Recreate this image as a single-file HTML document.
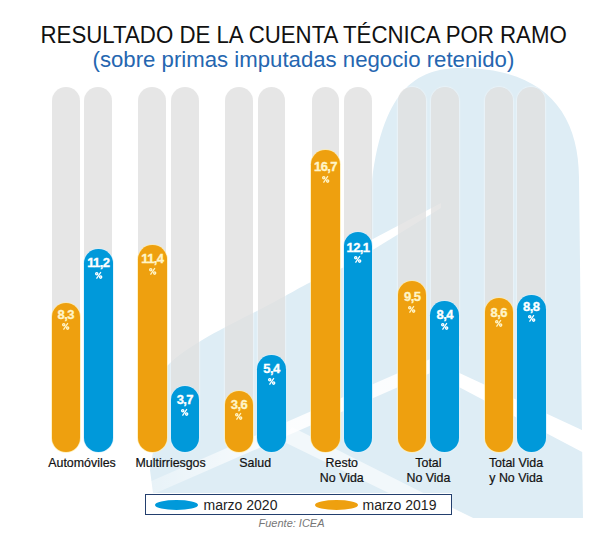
<!DOCTYPE html>
<html><head><meta charset="utf-8"><style>
*{margin:0;padding:0;box-sizing:border-box}
html,body{width:615px;height:545px;overflow:hidden;background:#fff}
body{position:relative;font-family:"Liberation Sans",sans-serif}
.t1{position:absolute;left:40.5px;top:23.5px;font-size:22.25px;line-height:24px;transform-origin:0 19.7px;transform:scaleY(1.04);color:#111;white-space:nowrap}
.t2{position:absolute;left:92.5px;top:47.9px;font-size:22.2px;line-height:24px;color:#2566b0;white-space:nowrap}
.g{position:absolute;width:27.9px;border-radius:13.95px;background:rgba(224,224,224,0.8);box-shadow:0 0 1.5px 0.6px rgba(255,255,255,0.55)}
.o,.b{position:absolute;width:28.5px;border-radius:14.25px;text-align:center;font-weight:bold}
.o{background:#eea00f;color:#fff5c8;box-shadow:0 0 0 0.7px rgba(255,236,170,0.9)}
.b{background:#0099da;color:#fff;box-shadow:0 0 0 0.7px rgba(215,238,252,0.9)}
.v{position:absolute;left:-10px;right:-10px;top:8px;font-size:13px;line-height:16px;letter-spacing:-0.6px;-webkit-text-stroke:0.35px currentColor}
.p{position:absolute;left:50%;margin-left:-3.7px;overflow:visible}
.lab{position:absolute;top:456.3px;width:120px;text-align:center;font-size:12.4px;line-height:15px;color:#111;-webkit-text-stroke:0.2px #111}
.leg{position:absolute;left:145px;top:494px;width:307px;height:21px;border:1.6px solid #233f6e;background:#fff}
.ell{position:absolute;top:500px;width:43.5px;height:10px;border-radius:50%}
.lt{position:absolute;top:496.5px;font-size:14px;line-height:16px;color:#222;white-space:nowrap}
.src{position:absolute;left:258.5px;top:517px;font-size:11px;line-height:13px;font-style:italic;color:#777;white-space:nowrap}
</style></head><body>
<svg width="615" height="545" style="position:absolute;left:0;top:0">
<path d="M371 255 L371 190 C381 90 416 68 461 68 C542 68 579 110 579 178 L583 518 L473 518 L452 508 L452 493 L153 493 L150 470 L167 366 C185 348 215 332 251 314 S 300 287 311 282 Z" fill="#deedf5"/>
<path d="M440 364 L584 431 L584 453 L440 377 Z" fill="#fff"/>
<path d="M371 240 L441 203 L441 208 L371 251 Z" fill="#fff"/>
<defs><linearGradient id="gc" gradientUnits="userSpaceOnUse" x1="150" y1="0" x2="290" y2="0"><stop offset="0" stop-color="#fff" stop-opacity="0.3"/><stop offset="1" stop-color="#fff" stop-opacity="0.9"/></linearGradient></defs><path d="M140 486 L460 346 L460 360 L140 500 Z" fill="url(#gc)"/>
<path d="M292 427 L473 518 L440 518 L280 440 Z" fill="#fff" fill-opacity="0.6"/>
</svg>
<div class="t1">RESULTADO DE LA CUENTA TÉCNICA POR RAMO</div>
<div class="t2">(sobre primas imputadas negocio retenido)</div>
<div class="g" style="left:51.80px;top:87.4px;height:364.6px"></div>
<div class="g" style="left:84.30px;top:87.4px;height:364.6px"></div>
<div class="o" style="left:51.50px;top:303.0px;height:149.0px"><span class="v" style="top:4.3px">8,3</span><svg class="p" style="top:19.8px" width="7.4" height="6.8" viewBox="0 0 7.4 6.8"><ellipse cx="1.75" cy="1.7" rx="1.1" ry="1.15" fill="none" stroke="currentColor" stroke-width="1.35"/><ellipse cx="5.65" cy="5.1" rx="1.1" ry="1.15" fill="none" stroke="currentColor" stroke-width="1.35"/><path d="M5.9 0.1 L1.5 6.7" stroke="currentColor" stroke-width="1.25"/></svg></div>
<div class="b" style="left:84.00px;top:249.1px;height:202.9px"><span class="v" style="top:6.2px">11,2</span><svg class="p" style="top:23.1px" width="7.4" height="6.8" viewBox="0 0 7.4 6.8"><ellipse cx="1.75" cy="1.7" rx="1.1" ry="1.15" fill="none" stroke="currentColor" stroke-width="1.35"/><ellipse cx="5.65" cy="5.1" rx="1.1" ry="1.15" fill="none" stroke="currentColor" stroke-width="1.35"/><path d="M5.9 0.1 L1.5 6.7" stroke="currentColor" stroke-width="1.25"/></svg></div>
<div class="lab" style="left:22.00px">Automóviles</div>
<div class="g" style="left:138.40px;top:87.4px;height:364.6px"></div>
<div class="g" style="left:170.90px;top:87.4px;height:364.6px"></div>
<div class="o" style="left:138.10px;top:244.8px;height:207.2px"><span class="v" style="top:6.5px">11,4</span><svg class="p" style="top:23.1px" width="7.4" height="6.8" viewBox="0 0 7.4 6.8"><ellipse cx="1.75" cy="1.7" rx="1.1" ry="1.15" fill="none" stroke="currentColor" stroke-width="1.35"/><ellipse cx="5.65" cy="5.1" rx="1.1" ry="1.15" fill="none" stroke="currentColor" stroke-width="1.35"/><path d="M5.9 0.1 L1.5 6.7" stroke="currentColor" stroke-width="1.25"/></svg></div>
<div class="b" style="left:170.60px;top:386.4px;height:65.6px"><span class="v" style="top:5.8px">3,7</span><svg class="p" style="top:22.7px" width="7.4" height="6.8" viewBox="0 0 7.4 6.8"><ellipse cx="1.75" cy="1.7" rx="1.1" ry="1.15" fill="none" stroke="currentColor" stroke-width="1.35"/><ellipse cx="5.65" cy="5.1" rx="1.1" ry="1.15" fill="none" stroke="currentColor" stroke-width="1.35"/><path d="M5.9 0.1 L1.5 6.7" stroke="currentColor" stroke-width="1.25"/></svg></div>
<div class="lab" style="left:110.60px">Multirriesgos</div>
<div class="g" style="left:225.00px;top:87.4px;height:364.6px"></div>
<div class="g" style="left:257.50px;top:87.4px;height:364.6px"></div>
<div class="o" style="left:224.70px;top:390.8px;height:61.2px"><span class="v" style="top:5.8px">3,6</span><svg class="p" style="top:22.3px" width="7.4" height="6.8" viewBox="0 0 7.4 6.8"><ellipse cx="1.75" cy="1.7" rx="1.1" ry="1.15" fill="none" stroke="currentColor" stroke-width="1.35"/><ellipse cx="5.65" cy="5.1" rx="1.1" ry="1.15" fill="none" stroke="currentColor" stroke-width="1.35"/><path d="M5.9 0.1 L1.5 6.7" stroke="currentColor" stroke-width="1.25"/></svg></div>
<div class="b" style="left:257.20px;top:354.8px;height:97.2px"><span class="v" style="top:6.5px">5,4</span><svg class="p" style="top:23.4px" width="7.4" height="6.8" viewBox="0 0 7.4 6.8"><ellipse cx="1.75" cy="1.7" rx="1.1" ry="1.15" fill="none" stroke="currentColor" stroke-width="1.35"/><ellipse cx="5.65" cy="5.1" rx="1.1" ry="1.15" fill="none" stroke="currentColor" stroke-width="1.35"/><path d="M5.9 0.1 L1.5 6.7" stroke="currentColor" stroke-width="1.25"/></svg></div>
<div class="lab" style="left:195.20px">Salud</div>
<div class="g" style="left:311.60px;top:87.4px;height:364.6px"></div>
<div class="g" style="left:344.10px;top:87.4px;height:364.6px"></div>
<div class="o" style="left:311.30px;top:150.0px;height:302.0px"><span class="v" style="top:9.2px">16,7</span><svg class="p" style="top:25.6px" width="7.4" height="6.8" viewBox="0 0 7.4 6.8"><ellipse cx="1.75" cy="1.7" rx="1.1" ry="1.15" fill="none" stroke="currentColor" stroke-width="1.35"/><ellipse cx="5.65" cy="5.1" rx="1.1" ry="1.15" fill="none" stroke="currentColor" stroke-width="1.35"/><path d="M5.9 0.1 L1.5 6.7" stroke="currentColor" stroke-width="1.25"/></svg></div>
<div class="b" style="left:343.80px;top:231.9px;height:220.1px"><span class="v" style="top:7.7px">12,1</span><svg class="p" style="top:24.4px" width="7.4" height="6.8" viewBox="0 0 7.4 6.8"><ellipse cx="1.75" cy="1.7" rx="1.1" ry="1.15" fill="none" stroke="currentColor" stroke-width="1.35"/><ellipse cx="5.65" cy="5.1" rx="1.1" ry="1.15" fill="none" stroke="currentColor" stroke-width="1.35"/><path d="M5.9 0.1 L1.5 6.7" stroke="currentColor" stroke-width="1.25"/></svg></div>
<div class="lab" style="left:281.80px">Resto<br>No Vida</div>
<div class="g" style="left:398.20px;top:87.4px;height:364.6px"></div>
<div class="g" style="left:430.70px;top:87.4px;height:364.6px"></div>
<div class="o" style="left:397.90px;top:281.1px;height:170.9px"><span class="v" style="top:7.7px">9,5</span><svg class="p" style="top:24.6px" width="7.4" height="6.8" viewBox="0 0 7.4 6.8"><ellipse cx="1.75" cy="1.7" rx="1.1" ry="1.15" fill="none" stroke="currentColor" stroke-width="1.35"/><ellipse cx="5.65" cy="5.1" rx="1.1" ry="1.15" fill="none" stroke="currentColor" stroke-width="1.35"/><path d="M5.9 0.1 L1.5 6.7" stroke="currentColor" stroke-width="1.25"/></svg></div>
<div class="b" style="left:430.40px;top:300.8px;height:151.2px"><span class="v" style="top:6.5px">8,4</span><svg class="p" style="top:22.3px" width="7.4" height="6.8" viewBox="0 0 7.4 6.8"><ellipse cx="1.75" cy="1.7" rx="1.1" ry="1.15" fill="none" stroke="currentColor" stroke-width="1.35"/><ellipse cx="5.65" cy="5.1" rx="1.1" ry="1.15" fill="none" stroke="currentColor" stroke-width="1.35"/><path d="M5.9 0.1 L1.5 6.7" stroke="currentColor" stroke-width="1.25"/></svg></div>
<div class="lab" style="left:368.40px">Total<br>No Vida</div>
<div class="g" style="left:484.80px;top:87.4px;height:364.6px"></div>
<div class="g" style="left:517.30px;top:87.4px;height:364.6px"></div>
<div class="o" style="left:484.50px;top:298.4px;height:153.6px"><span class="v" style="top:6.5px">8,6</span><svg class="p" style="top:22.0px" width="7.4" height="6.8" viewBox="0 0 7.4 6.8"><ellipse cx="1.75" cy="1.7" rx="1.1" ry="1.15" fill="none" stroke="currentColor" stroke-width="1.35"/><ellipse cx="5.65" cy="5.1" rx="1.1" ry="1.15" fill="none" stroke="currentColor" stroke-width="1.35"/><path d="M5.9 0.1 L1.5 6.7" stroke="currentColor" stroke-width="1.25"/></svg></div>
<div class="b" style="left:517.00px;top:294.9px;height:157.1px"><span class="v" style="top:4.3px">8,8</span><svg class="p" style="top:20.5px" width="7.4" height="6.8" viewBox="0 0 7.4 6.8"><ellipse cx="1.75" cy="1.7" rx="1.1" ry="1.15" fill="none" stroke="currentColor" stroke-width="1.35"/><ellipse cx="5.65" cy="5.1" rx="1.1" ry="1.15" fill="none" stroke="currentColor" stroke-width="1.35"/><path d="M5.9 0.1 L1.5 6.7" stroke="currentColor" stroke-width="1.25"/></svg></div>
<div class="lab" style="left:456.00px">Total Vida<br>y No Vida</div>
<div class="leg"></div>
<div class="ell" style="left:154.8px;background:#0099da"></div>
<div class="lt" style="left:203.5px">marzo 2020</div>
<div class="ell" style="left:314.7px;background:#eea00f"></div>
<div class="lt" style="left:362.5px">marzo 2019</div>
<div class="src">Fuente: ICEA</div>
</body></html>
